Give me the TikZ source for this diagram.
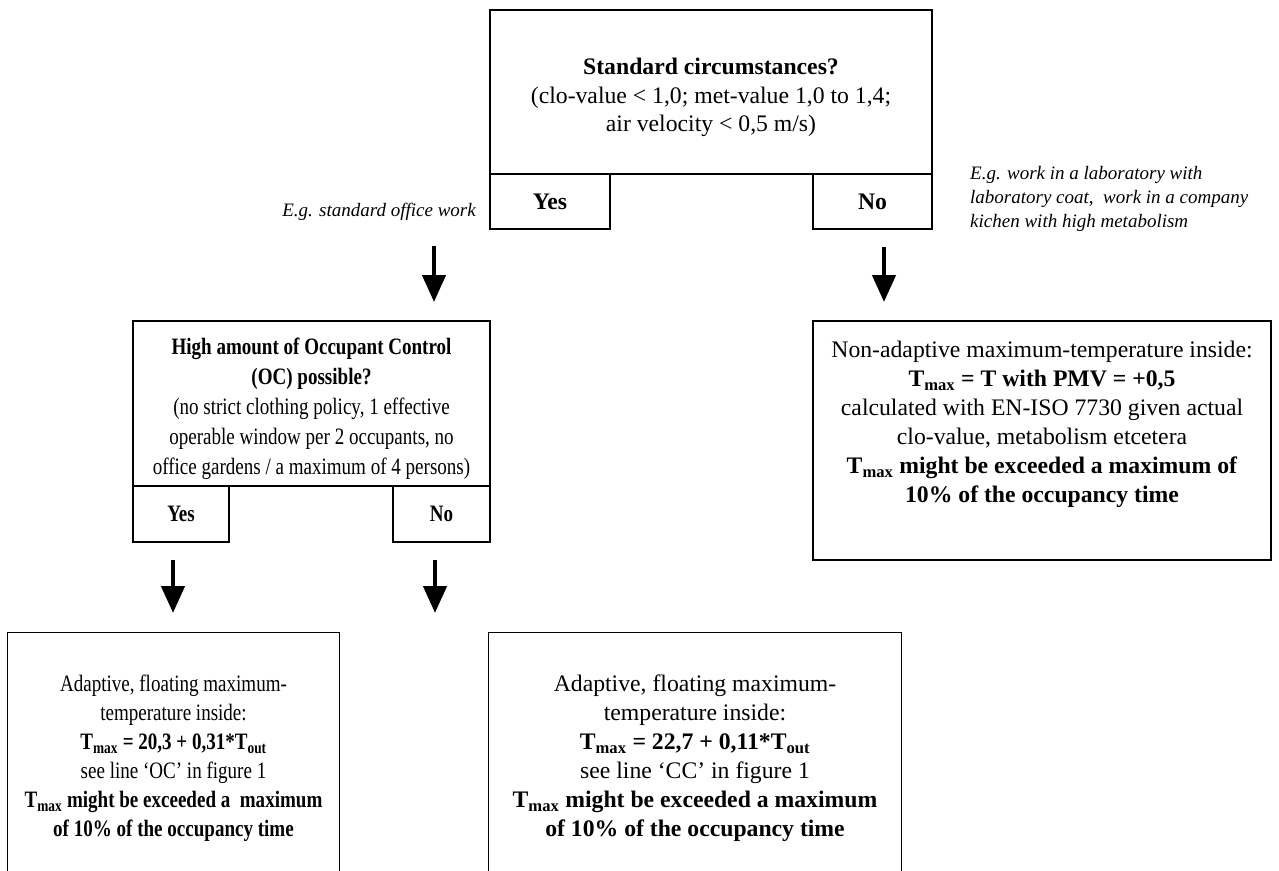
\documentclass[tikz,border=0pt]{standalone}
\usepackage{fontspec}
\setmainfont{Liberation Serif}
\newfontfamily\condfont[FakeStretch=0.81]{Liberation Serif}
\usetikzlibrary{arrows.meta}
\newcommand\Tm{T\textsubscript{max}}
\newcommand\Tout{T\textsubscript{out}}
\newcommand\dn[1]{\rule{0pt}{#1}}
\tikzset{
  fbox/.style={draw, line width=1.3pt, inner sep=0pt, align=center,
    font=\fontsize{23.7}{29}\selectfont},
  cbox/.style={fbox, font=\condfont\fontsize{23.5}{30}\selectfont},
  obox/.style={inner sep=0pt, align=center},
  openline/.style={line width=1.3pt},
  lbl/.style={inner sep=0pt, align=left, font=\itshape\fontsize{19}{24}\selectfont},
  flow/.style={line width=4.5pt, -{Triangle[width=23pt,length=27pt]}}
}
\begin{document}
\begin{tikzpicture}[x=1pt,y=-1pt]
\useasboundingbox (0,0) rectangle (1279,870);
% top decision
\node[fbox, minimum width=442pt, minimum height=164pt, font=\fontsize{23.7}{28.5}\selectfont] (top) at (711,92)
  {\dn{28pt}\textbf{Standard circumstances?}\\(clo-value < 1,0; met-value 1,0 to 1,4;\\air velocity < 0,5 m/s)};
\node[fbox, minimum width=120pt, minimum height=55pt] (yes1) at (550,201.5) {\textbf{Yes}};
\node[fbox, minimum width=119pt, minimum height=55pt] (no1) at (872.5,201.5) {\textbf{No}};
\node[lbl, anchor=east] (lyes) at (476,212) {E.g. standard office work};
\node[lbl, anchor=north west] (lno) at (970,166)
  {E.g. work in a laboratory with\\laboratory coat,\ \ work in a company\\kichen with high metabolism};
% arrows level 1
\coordinate (a1s) at (434,246); \coordinate (a1e) at (434,302);
\coordinate (a2s) at (884,247); \coordinate (a2e) at (884,302);
\draw[flow] (a1s) -- (a1e);
\draw[flow] (a2s) -- (a2e);
% middle decision
\node[cbox, minimum width=357pt, minimum height=165pt] (mid) at (311.5,403.5)
  {\dn{28pt}\textbf{High amount of Occupant Control}\\\textbf{(OC) possible?}\\(no strict clothing policy, 1 effective\\operable window per 2 occupants, no\\office gardens / a maximum of 4 persons)};
\node[cbox, minimum width=96pt, minimum height=56pt] (yes2) at (181,514) {\textbf{Yes}};
\node[cbox, minimum width=97pt, minimum height=56pt] (no2) at (441.5,514) {\textbf{No}};
% right result
\node[fbox, minimum width=458pt, minimum height=239pt] (res) at (1042,440.5)
  {Non-adaptive maximum-temperature inside:\\\textbf{\Tm{} = T with PMV = +0,5}\\calculated with EN-ISO 7730 given actual\\clo-value, metabolism etcetera\\\textbf{\Tm{} might be exceeded a maximum of}\\\textbf{10\% of the occupancy time}\\\strut};
% arrows level 2
\coordinate (a3s) at (173,560); \coordinate (a3e) at (173,613);
\coordinate (a4s) at (435,560); \coordinate (a4e) at (435,613);
\draw[flow] (a3s) -- (a3e);
\draw[flow] (a4s) -- (a4e);
% bottom results (cut at the lower edge)
\node[obox, minimum width=331pt, minimum height=239pt, font=\condfont\fontsize{23.5}{29}\selectfont] (bl) at (173.5,752.5)
  {\dn{28pt}Adaptive, floating maximum-\\temperature inside:\\\textbf{\Tm{} = 20,3 + 0,31*\Tout}\\see line ‘OC’ in figure 1\\\textbf{\Tm{} might be exceeded a\ \ maximum}\\\textbf{of 10\% of the occupancy time}};
\draw[openline] (bl.south west) -- (bl.north west) -- (bl.north east) -- (bl.south east);
\node[obox, minimum width=412pt, minimum height=239pt, font=\fontsize{23.7}{29}\selectfont] (bm) at (695,752.5)
  {\dn{28pt}Adaptive, floating maximum-\\temperature inside:\\\textbf{\Tm{} = 22,7 + 0,11*\Tout}\\see line ‘CC’ in figure 1\\\textbf{\Tm{} might be exceeded a maximum}\\\textbf{of 10\% of the occupancy time}};
\draw[openline] (bm.south west) -- (bm.north west) -- (bm.north east) -- (bm.south east);
\end{tikzpicture}
\end{document}
